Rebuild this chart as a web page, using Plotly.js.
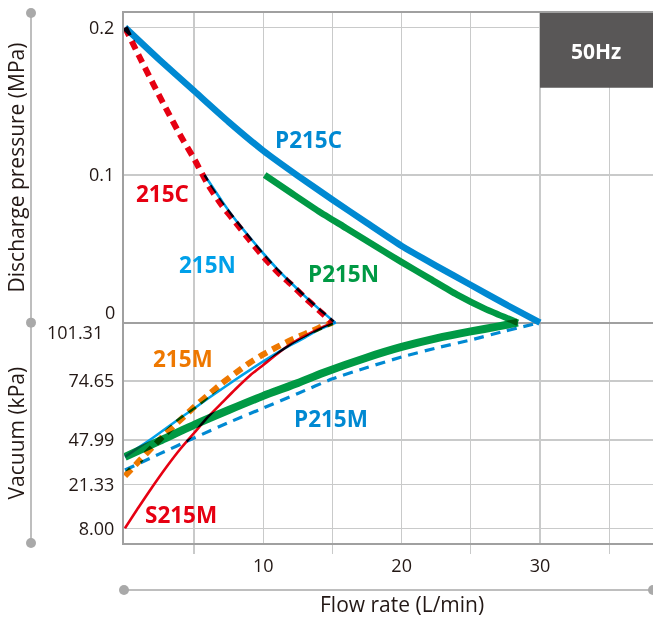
<!DOCTYPE html>
<html>
<head>
<meta charset="utf-8">
<script src="https://cdn.plot.ly/plotly-3.0.1.min.js"></script>
<style>
  html, body { margin: 0; padding: 0; background: #ffffff; }
  #chart { width: 653px; height: 618px; }
</style>
</head>
<body>
<div id="chart"></div>
<script>
// ---------- Data ----------
// Discharge side (MPa)
const flowP215C = [0, 2.5, 5, 7.5, 10, 12.5, 15, 17.5, 20, 22.5, 25, 27.5, 30];
const presP215C = [0.2, 0.178, 0.157, 0.136, 0.1165, 0.0995, 0.0833, 0.0675, 0.052, 0.0385, 0.0255, 0.0125, 0];

const flowP215N = [10.1, 12, 14, 16, 18, 20, 22, 24, 26, 28.4];
const presP215N = [0.1, 0.088, 0.0755, 0.064, 0.0525, 0.041, 0.030, 0.019, 0.0095, 0];

const flow215C = [0, 1, 2, 3, 4, 5, 6, 7, 8, 9, 10, 11, 12, 13, 14, 15];
const pres215C = [0.2, 0.181, 0.1625, 0.1445, 0.127, 0.111, 0.0935, 0.0795, 0.0678, 0.056, 0.0447, 0.0345, 0.026, 0.017, 0.0085, 0];

const flow215N = [5.75, 7, 8, 9, 10, 11, 12, 13, 14, 15.2];
const pres215N = [0.1, 0.0825, 0.0695, 0.058, 0.047, 0.0365, 0.027, 0.018, 0.0095, 0];

// Vacuum side (kPa)
const flowP215NVac = [0, 2.5, 5, 7.5, 10, 12.5, 14.3, 17.5, 20, 22.5, 25, 27, 28.4];
const vacP215N = [37.8, 47.4, 54.8, 61.5, 67.9, 73.7, 78.3, 85.4, 90.2, 94.1, 97.3, 99.6, 101.31];

const flowP215M = [0, 2.5, 5, 7.5, 10, 12.5, 15, 17.5, 20, 22.5, 25, 27.5, 30];
const vacP215M = [29.9, 39.6, 48.9, 55.9, 62.4, 69.0, 75.6, 80.8, 85.6, 89.7, 93.4, 97.5, 101.31];

const flow215M = [0, 1, 2, 3, 4, 5, 6, 7, 8, 9, 10, 11, 12, 13, 14, 15];
const vac215M = [26.3, 35.1, 43.8, 51.2, 57.0, 62.9, 68.3, 73.5, 78.3, 82.9, 86.8, 90.2, 93.4, 96.1, 98.9, 101.31];

const flow215NVac = [0, 1, 2, 3, 4, 5, 6, 7, 8, 9, 10, 11, 12, 13, 14, 15.25];
const vac215N = [37.8, 43.5, 48.9, 53.4, 57.9, 62.2, 66.7, 71.0, 75.3, 79.5, 83.6, 87.5, 91.1, 94.5, 98.0, 101.31];

const flowS215M = [0, 1, 2, 3, 4, 5, 6, 7, 8, 9, 10, 11, 12, 13, 14, 15];
const vacS215M = [8.00, 14.45, 20.66, 31.74, 42.57, 51.15, 58.38, 64.71, 71.03, 76.94, 81.97, 87.0, 91.57, 95.23, 98.43, 101.31];

// Tick labels
const xTickVals = [10, 20, 30];
const xMinorVals = [5, 15, 25, 35];
const presTickVals = [0.2, 0.1];
const presTickText = ['0.2', '0.1'];
const vacTickVals = [74.65, 47.99, 21.33, 8.00];
const vacTickText = ['74.65', '47.99', '21.33', '8.00'];

// ---------- Vacuum scale (irregular, as printed) ----------
const vacScaleKpa = [101.31, 74.65, 47.99, 21.33, 8.00];
const vacScalePos = [0, -0.0395, -0.0795, -0.1095, -0.1393];
function vacPos(k) {
  for (let i = 0; i < vacScaleKpa.length - 1; i++) {
    const a = vacScaleKpa[i], b = vacScaleKpa[i + 1];
    if (k <= a && k >= b) {
      return vacScalePos[i] + (k - a) / (b - a) * (vacScalePos[i + 1] - vacScalePos[i]);
    }
  }
  return k > vacScaleKpa[0] ? 0 : vacScalePos[vacScalePos.length - 1];
}
const toPos = arr => arr.map(vacPos);

// ---------- Colours ----------
const cBlue = '#0089d2', cCyan = '#00a0e9', cRed = '#e60012', cGreen = '#009944', cOrange = '#ee7800';
const cText = '#231815', cGrid = '#c9caca', cFrame = '#a0a0a0', cDeco = '#a9a9a9';

function line(x, y, color, width, dash) {
  return { x: x, y: y, type: 'scatter', mode: 'lines', hoverinfo: 'skip',
           line: { color: color, width: width, dash: dash || 'solid', shape: 'spline', smoothing: 0.6 } };
}

const traces = [
  line(flowP215C, presP215C, cBlue, 6.5),
  line(flowP215N, presP215N, cGreen, 6.5),
  line(flowP215NVac, toPos(vacP215N), cGreen, 8),
  line(flowP215M, toPos(vacP215M), cBlue, 3.2, '10px,7px'),
  line(flow215N, pres215N, cCyan, 2.6),
  line(flow215NVac, toPos(vac215N), cCyan, 2.6),
  line(flowS215M, toPos(vacS215M), cRed, 2.6),
  line(flow215C, pres215C, cRed, 6, '9px,6px'),
  line(flow215M, toPos(vac215M), cOrange, 6, '9px,6px')
];

const labelFont = (c) => ({ family: 'Open Sans, sans-serif', size: 22.5, color: c, weight: 'bold' });
function seriesLabel(text, x, y, c) {
  return { text: text, x: x, y: y, xref: 'x', yref: 'y', showarrow: false,
           xanchor: 'center', yanchor: 'middle', font: labelFont(c) };
}
const tickFont = { family: 'Open Sans, sans-serif', size: 18, color: cText };
const titleFont = { family: 'Open Sans, sans-serif', size: 21, color: cText };

const annotations = [
  seriesLabel('P215C', 13.29, 0.1241, cBlue),
  seriesLabel('215C', 2.69, 0.0877, cRed),
  seriesLabel('215N', 5.97, 0.0391, cCyan),
  seriesLabel('P215N', 15.82, 0.0331, cGreen),
  seriesLabel('215M', 4.16, -0.0241, cOrange),
  seriesLabel('P215M', 14.87, -0.0648, cBlue),
  seriesLabel('S215M', 4.04, -0.1302, cRed),
  // zero line labels
  { text: '0', x: 0, y: 0, xref: 'paper', yref: 'y', showarrow: false, xanchor: 'right', yanchor: 'middle',
    xshift: -7.5, yshift: 11, font: tickFont },
  { text: '101.31', x: 0, y: 0, xref: 'paper', yref: 'y', showarrow: false, xanchor: 'right', yanchor: 'middle',
    xshift: -19, yshift: -9, font: tickFont },
  // axis titles
  { text: 'Discharge pressure (MPa)', x: -0.2023, y: 0.7085, xref: 'paper', yref: 'paper', showarrow: false,
    textangle: -90, xanchor: 'center', yanchor: 'middle', font: titleFont },
  { text: 'Vacuum (kPa)', x: -0.2023, y: 0.2085, xref: 'paper', yref: 'paper', showarrow: false,
    textangle: -90, xanchor: 'center', yanchor: 'middle', font: titleFont },
  { text: 'Flow rate (L/min)', x: 20, y: -0.115, xref: 'x', yref: 'paper', showarrow: false,
    xanchor: 'center', yanchor: 'middle', font: titleFont },
  // frequency tag
  { text: '50Hz', x: 34.07, y: 0.9289, xref: 'x', yref: 'paper', showarrow: false,
    xanchor: 'center', yanchor: 'middle', font: { family: 'Open Sans, sans-serif', size: 21, color: '#ffffff', weight: 'bold' } }
];

function dot(xref, x, yref, y) {
  return { type: 'circle', xref: xref, yref: yref, xsizemode: 'pixel', ysizemode: 'pixel',
           xanchor: x, yanchor: y, x0: -5, x1: 5, y0: -5, y1: 5,
           fillcolor: cDeco, line: { width: 0 }, layer: 'above' };
}
const decoX = -0.1758;   // paper position of the left bracket line
const decoY = -0.0887;   // paper position of the bottom bracket line
const shapes = [
  { type: 'rect', xref: 'x', yref: 'paper', x0: 30, x1: 38.5, y0: 0.859, y1: 1.0,
    fillcolor: '#595757', line: { width: 0 }, layer: 'above' },
  { type: 'line', xref: 'paper', yref: 'paper', x0: decoX, x1: decoX, y0: 0, y1: 1,
    line: { color: cDeco, width: 1.5 }, layer: 'below' },
  { type: 'line', xref: 'paper', yref: 'paper', x0: 0, x1: 1, y0: decoY, y1: decoY,
    line: { color: cDeco, width: 1.5 }, layer: 'below' },
  dot('paper', decoX, 'paper', 1),
  dot('paper', decoX, 'y', 0),
  dot('paper', decoX, 'paper', 0),
  dot('paper', 0, 'paper', decoY),
  dot('paper', 1, 'paper', decoY)
];

const layout = {
  width: 653, height: 618,
  margin: { l: 124, r: 0, t: 13, b: 75 },
  paper_bgcolor: '#ffffff', plot_bgcolor: '#ffffff',
  showlegend: false,
  xaxis: {
    range: [-0.069, 38.17], tickmode: 'array', tickvals: xTickVals, ticktext: xTickVals.map(String),
    showgrid: true, gridcolor: cGrid, gridwidth: 1.3, zeroline: false,
    showline: true, linecolor: cFrame, linewidth: 2, mirror: true,
    ticks: '', tickfont: tickFont, ticklabelstandoff: 5,
    minor: { tickmode: 'array', tickvals: xMinorVals, ticks: 'outside', ticklen: 9, tickcolor: cGrid, tickwidth: 1.3,
             showgrid: true, gridcolor: cGrid, gridwidth: 1.3 },
    fixedrange: true
  },
  yaxis: {
    range: [-0.1493, 0.2098], tickmode: 'array',
    tickvals: presTickVals.concat(vacTickVals.map(vacPos)),
    ticktext: presTickText.concat(vacTickText),
    showgrid: true, gridcolor: cGrid, gridwidth: 1.3,
    zeroline: true, zerolinecolor: cFrame, zerolinewidth: 2.2,
    showline: true, linecolor: cFrame, linewidth: 2, mirror: false,
    ticks: '', tickfont: tickFont, ticklabelstandoff: 4,
    fixedrange: true
  },
  annotations: annotations,
  shapes: shapes
};

Plotly.newPlot('chart', traces, layout, { staticPlot: true, displayModeBar: false }).then(function (gd) {
  gd.querySelectorAll('.scatterlayer .trace').forEach(function (t) { t.style.mixBlendMode = 'multiply'; });
});
</script>
</body>
</html>
